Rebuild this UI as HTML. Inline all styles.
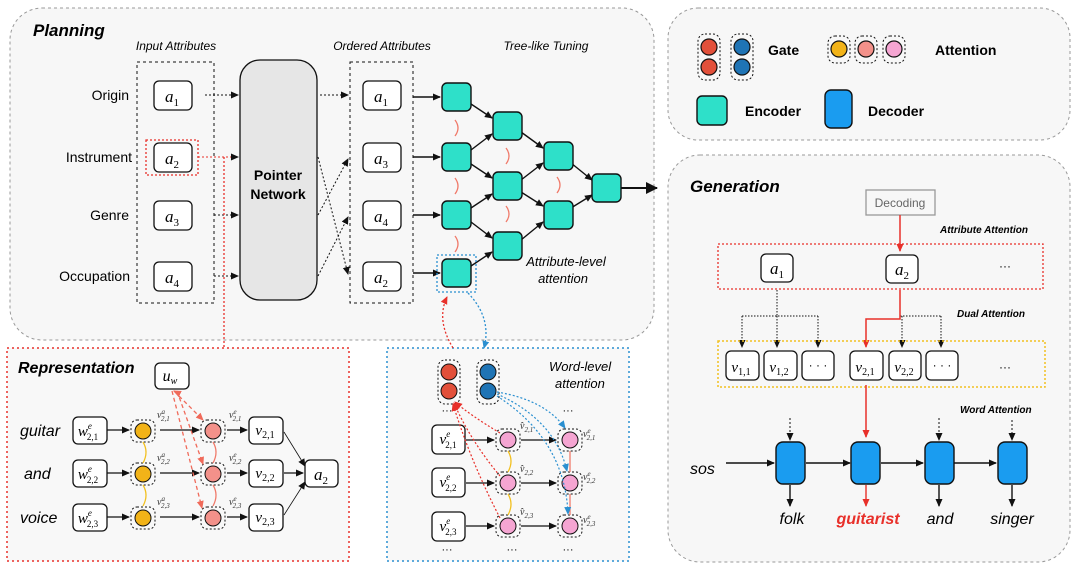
<!DOCTYPE html>
<html><head><meta charset="utf-8"><style>
html,body{margin:0;padding:0;background:#fff;}
svg{display:block;font-family:"Liberation Sans",sans-serif;}
.m{font-family:"Liberation Serif",serif;font-style:italic;}
.it{font-style:italic;}
</style></head><body>
<svg width="1080" height="569" viewBox="0 0 1080 569" xmlns="http://www.w3.org/2000/svg">
<defs>
<marker id="ak" markerWidth="8" markerHeight="8" refX="7" refY="4" orient="auto" markerUnits="userSpaceOnUse"><path d="M0,0.5 L8,4 L0,7.5z" fill="#111"/></marker>
<marker id="ar" markerWidth="8" markerHeight="8" refX="7" refY="4" orient="auto" markerUnits="userSpaceOnUse"><path d="M0,0.5 L8,4 L0,7.5z" fill="#e8302a"/></marker>
<marker id="ab" markerWidth="8" markerHeight="8" refX="7" refY="4" orient="auto" markerUnits="userSpaceOnUse"><path d="M0,0.5 L8,4 L0,7.5z" fill="#2a8fd0"/></marker>
<marker id="as" markerWidth="8" markerHeight="8" refX="7" refY="4" orient="auto" markerUnits="userSpaceOnUse"><path d="M0,0.5 L8,4 L0,7.5z" fill="#f06a5a"/></marker>
<marker id="aB" markerWidth="12" markerHeight="12" refX="11" refY="6" orient="auto" markerUnits="userSpaceOnUse"><path d="M0,0 L12,6 L0,12z" fill="#111"/></marker>
</defs>

<!-- Main panels -->
<rect x="10" y="8" width="644" height="332" rx="32" fill="#f7f7f7" stroke="#999" stroke-dasharray="3,3"/>
<rect x="668" y="8" width="402" height="132" rx="30" fill="#f7f7f7" stroke="#999" stroke-dasharray="3,3"/>
<rect x="668" y="155" width="402" height="407" rx="32" fill="#f7f7f7" stroke="#999" stroke-dasharray="3,3"/>
<rect x="7" y="348" width="342" height="213" fill="#f8f8f8" stroke="#e8302a" stroke-width="1.5" stroke-dasharray="2,3"/>
<rect x="387" y="348" width="242" height="213" fill="#f8f8f8" stroke="#2a8fd0" stroke-width="1.5" stroke-dasharray="2,3"/>

<!-- Planning -->
<text x="33" y="36" font-size="17" font-weight="bold" class="it">Planning</text>
<text x="176" y="50" font-size="12" class="it" text-anchor="middle">Input Attributes</text>
<text x="382" y="50" font-size="12" class="it" text-anchor="middle">Ordered Attributes</text>
<text x="546" y="50" font-size="12" class="it" text-anchor="middle">Tree-like Tuning</text>
<g font-size="14" text-anchor="end">
<text x="129" y="100">Origin</text><text x="132" y="162">Instrument</text>
<text x="129" y="220">Genre</text><text x="130" y="281">Occupation</text></g>
<rect x="137" y="62" width="77" height="241" fill="none" stroke="#111" stroke-dasharray="3,3"/>
<rect x="350" y="62" width="63" height="241" fill="none" stroke="#111" stroke-dasharray="3,3"/>
<rect x="146" y="140" width="52" height="35" fill="none" stroke="#e8302a" stroke-dasharray="2,2" stroke-width="1.3"/>
<g fill="#fff" stroke="#111" stroke-width="1.3">
<rect x="154" y="81" width="38" height="29" rx="5"/><rect x="154" y="143" width="38" height="29" rx="5"/>
<rect x="154" y="201" width="38" height="29" rx="5"/><rect x="154" y="262" width="38" height="29" rx="5"/>
<rect x="363" y="81" width="38" height="29" rx="5"/><rect x="363" y="143" width="38" height="29" rx="5"/>
<rect x="363" y="201" width="38" height="29" rx="5"/><rect x="363" y="262" width="38" height="29" rx="5"/>
</g>
<g class="m" font-size="17" text-anchor="middle">
<text x="172" y="102">a<tspan font-size="11" dy="4" font-style="normal">1</tspan></text>
<text x="172" y="164">a<tspan font-size="11" dy="4" font-style="normal">2</tspan></text>
<text x="172" y="222">a<tspan font-size="11" dy="4" font-style="normal">3</tspan></text>
<text x="172" y="283">a<tspan font-size="11" dy="4" font-style="normal">4</tspan></text>
<text x="381" y="102">a<tspan font-size="11" dy="4" font-style="normal">1</tspan></text>
<text x="381" y="164">a<tspan font-size="11" dy="4" font-style="normal">3</tspan></text>
<text x="381" y="222">a<tspan font-size="11" dy="4" font-style="normal">4</tspan></text>
<text x="381" y="283">a<tspan font-size="11" dy="4" font-style="normal">2</tspan></text>
</g>
<rect x="240" y="60" width="77" height="240" rx="20" fill="#e6e6e6" stroke="#111" stroke-width="1.3"/>
<text x="278" y="180" font-size="14" font-weight="bold" text-anchor="middle">Pointer</text>
<text x="278" y="199" font-size="14" font-weight="bold" text-anchor="middle">Network</text>
<g stroke="#111" stroke-dasharray="2,2" fill="none" marker-end="url(#ak)">
<line x1="205" y1="95" x2="238" y2="95"/><line x1="214" y1="215" x2="238" y2="215"/><line x1="214" y1="276" x2="238" y2="276"/>
<line x1="320" y1="95" x2="348" y2="95"/>
<line x1="318" y1="157" x2="348" y2="274"/>
<line x1="318" y1="215" x2="348" y2="159"/>
<line x1="318" y1="276" x2="348" y2="217"/>
</g>
<line x1="198" y1="157" x2="238" y2="157" stroke="#e8302a" stroke-dasharray="2,2" marker-end="url(#ak)"/>
<polyline points="224,157 224,348" fill="none" stroke="#e8302a" stroke-width="1.3" stroke-dasharray="2,2"/>

<!-- Tree -->
<g stroke="#111" stroke-width="1.4" marker-end="url(#ak)">
<line x1="413" y1="97" x2="440" y2="97"/><line x1="413" y1="157" x2="440" y2="157"/>
<line x1="413" y1="215" x2="440" y2="215"/><line x1="413" y1="273" x2="440" y2="273"/>
<line x1="471" y1="104" x2="492" y2="118"/><line x1="471" y1="150" x2="492" y2="134"/>
<line x1="471" y1="164" x2="492" y2="178"/><line x1="471" y1="208" x2="492" y2="194"/>
<line x1="471" y1="222" x2="492" y2="238"/><line x1="471" y1="266" x2="492" y2="252"/>
<line x1="521" y1="132" x2="543" y2="148"/><line x1="521" y1="192" x2="543" y2="206"/>
<line x1="521" y1="180" x2="543" y2="163"/><line x1="521" y1="240" x2="543" y2="222"/>
<line x1="571" y1="163" x2="592" y2="180"/><line x1="571" y1="208" x2="592" y2="195"/>
</g>
<line x1="620" y1="188" x2="657" y2="188" stroke="#111" stroke-width="2" marker-end="url(#aB)"/>
<g fill="#2ee0c9" stroke="#111" stroke-width="1.4">
<rect x="442" y="83" width="29" height="28" rx="5"/><rect x="442" y="143" width="29" height="28" rx="5"/>
<rect x="442" y="201" width="29" height="28" rx="5"/><rect x="442" y="259" width="29" height="28" rx="5"/>
<rect x="493" y="112" width="29" height="28" rx="5"/><rect x="493" y="172" width="29" height="28" rx="5"/>
<rect x="493" y="232" width="29" height="28" rx="5"/>
<rect x="544" y="142" width="29" height="28" rx="5"/><rect x="544" y="201" width="29" height="28" rx="5"/>
<rect x="592" y="174" width="29" height="28" rx="5"/>
</g>
<g fill="none" stroke="#f07a6a" stroke-width="1.3">
<path d="M455,120 q6,8 0,16"/><path d="M455,178 q6,8 0,16"/><path d="M455,236 q6,8 0,16"/>
<path d="M506,148 q6,8 0,16"/><path d="M506,206 q6,8 0,16"/><path d="M557,177 q6,8 0,16"/>
</g>
<rect x="437" y="255" width="39" height="37" fill="none" stroke="#2a8fd0" stroke-width="1.3" stroke-dasharray="2,2"/>
<text x="566" y="266" font-size="13" class="it" text-anchor="middle">Attribute-level</text>
<text x="563" y="283" font-size="13" class="it" text-anchor="middle">attention</text>
<path d="M453,348 Q436,320 447,297" fill="none" stroke="#e8302a" stroke-dasharray="2,2" stroke-width="1.3" marker-end="url(#ar)"/>
<path d="M468,293 Q492,318 484,348" fill="none" stroke="#2a8fd0" stroke-dasharray="2,2" stroke-width="1.3" marker-end="url(#ab)"/>

<!-- Legend -->
<g fill="none" stroke="#111" stroke-dasharray="2,2"><rect x="698" y="34" width="22" height="46" rx="7"/><rect x="731" y="34" width="22" height="46" rx="7"/>
<rect x="828" y="36" width="22" height="27" rx="7"/><rect x="855" y="36" width="22" height="27" rx="7"/><rect x="883" y="36" width="22" height="27" rx="7"/></g>
<g stroke="#111" stroke-width="1.2">
<circle cx="709" cy="47" r="8" fill="#e2503a"/><circle cx="709" cy="67" r="8" fill="#e2503a"/>
<circle cx="742" cy="47" r="8" fill="#1f74b5"/><circle cx="742" cy="67" r="8" fill="#1f74b5"/>
<circle cx="839" cy="49" r="8" fill="#f2b318"/><circle cx="866" cy="49" r="8" fill="#f3918a"/><circle cx="894" cy="49" r="8" fill="#f5a5d2"/>
</g>
<text x="768" y="55" font-size="14" font-weight="bold">Gate</text>
<text x="935" y="55" font-size="14" font-weight="bold">Attention</text>
<rect x="697" y="96" width="30" height="29" rx="5" fill="#2ee0c9" stroke="#111" stroke-width="1.4"/>
<text x="745" y="116" font-size="14" font-weight="bold">Encoder</text>
<rect x="825" y="90" width="27" height="38" rx="6" fill="#1a9cf0" stroke="#111" stroke-width="1.4"/>
<text x="868" y="116" font-size="14" font-weight="bold">Decoder</text>

<!-- Generation -->
<text x="690" y="192" font-size="17" font-weight="bold" class="it">Generation</text>
<rect x="866" y="190" width="69" height="25" fill="#f7f7f7" stroke="#999" stroke-width="1.3"/>
<text x="900" y="207" font-size="12" fill="#666" text-anchor="middle">Decoding</text>
<line x1="900" y1="215" x2="900" y2="251" stroke="#e8302a" stroke-width="1.5" marker-end="url(#ar)"/>
<text x="940" y="233" font-size="10" font-weight="bold" class="it">Attribute Attention</text>
<rect x="718" y="244" width="325" height="45" fill="none" stroke="#e8302a" stroke-width="1.3" stroke-dasharray="2,2"/>
<rect x="761" y="254" width="32" height="28" rx="5" fill="#fff" stroke="#111" stroke-width="1.3"/>
<rect x="886" y="255" width="32" height="28" rx="5" fill="#fff" stroke="#111" stroke-width="1.3"/>
<text x="777" y="274" font-size="17" class="m" text-anchor="middle">a<tspan font-size="11" dy="4" font-style="normal">1</tspan></text>
<text x="902" y="275" font-size="17" class="m" text-anchor="middle">a<tspan font-size="11" dy="4" font-style="normal">2</tspan></text>
<text x="1005" y="270" font-size="12" text-anchor="middle">···</text>
<g fill="none" stroke="#111" stroke-dasharray="1.5,1.5">
<polyline points="777,290 777,316"/><polyline points="742,316 818,316"/><polyline points="900,316 941,316"/></g>
<g stroke="#111" stroke-dasharray="1.5,1.5" marker-end="url(#ak)">
<line x1="742" y1="316" x2="742" y2="347"/><line x1="777" y1="316" x2="777" y2="347"/><line x1="818" y1="316" x2="818" y2="347"/>
<line x1="902" y1="316" x2="902" y2="347"/><line x1="941" y1="316" x2="941" y2="347"/></g>
<polyline points="900,290 900,319 866,319 866,347" fill="none" stroke="#e8302a" stroke-width="1.5" marker-end="url(#ar)"/>
<text x="957" y="317" font-size="10" font-weight="bold" class="it">Dual Attention</text>
<rect x="718" y="341" width="327" height="46" fill="none" stroke="#f2c020" stroke-width="1.5" stroke-dasharray="2,2"/>
<g fill="#fff" stroke="#111" stroke-width="1.3">
<rect x="726" y="351" width="33" height="29" rx="5"/><rect x="764" y="351" width="33" height="29" rx="5"/><rect x="802" y="351" width="32" height="29" rx="5"/>
<rect x="850" y="351" width="33" height="29" rx="5"/><rect x="889" y="351" width="32" height="29" rx="5"/><rect x="926" y="351" width="32" height="29" rx="5"/></g>
<g class="m" font-size="15" text-anchor="middle">
<text x="741" y="372">v<tspan font-size="10" dy="3" font-style="normal">1,1</tspan></text>
<text x="779" y="372">v<tspan font-size="10" dy="3" font-style="normal">1,2</tspan></text>
<text x="865" y="372">v<tspan font-size="10" dy="3" font-style="normal">2,1</tspan></text>
<text x="904" y="372">v<tspan font-size="10" dy="3" font-style="normal">2,2</tspan></text></g>
<text x="818" y="369" font-size="12" text-anchor="middle">· · ·</text>
<text x="942" y="369" font-size="12" text-anchor="middle">· · ·</text>
<text x="1005" y="371" font-size="12" text-anchor="middle">···</text>
<line x1="866" y1="385" x2="866" y2="437" stroke="#e8302a" stroke-width="1.5" marker-end="url(#ar)"/>
<text x="960" y="413" font-size="10" font-weight="bold" class="it">Word Attention</text>
<g stroke="#111" stroke-dasharray="2,2" marker-end="url(#ak)">
<line x1="790" y1="418" x2="790" y2="440"/><line x1="939" y1="418" x2="939" y2="440"/><line x1="1012" y1="420" x2="1012" y2="440"/></g>
<text x="690" y="474" font-size="16" class="it">sos</text>
<g stroke="#111" stroke-width="1.4" marker-end="url(#ak)">
<line x1="726" y1="463" x2="774" y2="463"/><line x1="806" y1="463" x2="850" y2="463"/>
<line x1="881" y1="463" x2="923" y2="463"/><line x1="954" y1="463" x2="996" y2="463"/>
<line x1="790" y1="485" x2="790" y2="506"/><line x1="939" y1="485" x2="939" y2="506"/><line x1="1012" y1="485" x2="1012" y2="506"/></g>
<line x1="866" y1="485" x2="866" y2="506" stroke="#e8302a" stroke-width="1.4" marker-end="url(#ar)"/>
<g fill="#1a9cf0" stroke="#111" stroke-width="1.4">
<rect x="776" y="442" width="29" height="42" rx="7"/><rect x="851" y="442" width="29" height="42" rx="7"/>
<rect x="925" y="442" width="29" height="42" rx="7"/><rect x="998" y="442" width="29" height="42" rx="7"/></g>
<g font-size="16" class="it" text-anchor="middle">
<text x="792" y="524">folk</text><text x="868" y="524" fill="#e8302a" font-weight="bold">guitarist</text>
<text x="940" y="524">and</text><text x="1012" y="524">singer</text></g>

<!-- Representation -->
<text x="18" y="373" font-size="16" font-weight="bold" class="it">Representation</text>
<rect x="155" y="363" width="34" height="26" rx="5" fill="#fff" stroke="#111" stroke-width="1.3"/>
<text x="170" y="381" font-size="16" class="m" text-anchor="middle">u<tspan font-size="10" dy="3">w</tspan></text>
<g font-size="16" class="it"><text x="20" y="436">guitar</text><text x="24" y="479">and</text><text x="20" y="523">voice</text></g>
<g fill="#fff" stroke="#111" stroke-width="1.3">
<rect x="73" y="417" width="34" height="27" rx="5"/><rect x="73" y="460" width="34" height="27" rx="5"/><rect x="73" y="504" width="34" height="27" rx="5"/>
<rect x="249" y="417" width="34" height="27" rx="5"/><rect x="249" y="460" width="34" height="27" rx="5"/><rect x="249" y="504" width="34" height="27" rx="5"/>
<rect x="305" y="460" width="33" height="27" rx="5"/></g>
<g class="m" font-size="15" text-anchor="middle">
<text x="88" y="436">w<tspan font-size="9" dy="-7" font-style="italic">e</tspan><tspan font-size="9" dx="-5" dy="11" font-style="normal">2,1</tspan></text>
<text x="88" y="479">w<tspan font-size="9" dy="-7" font-style="italic">e</tspan><tspan font-size="9" dx="-5" dy="11" font-style="normal">2,2</tspan></text>
<text x="88" y="523">w<tspan font-size="9" dy="-7" font-style="italic">e</tspan><tspan font-size="9" dx="-5" dy="11" font-style="normal">2,3</tspan></text>
<text x="265" y="435">v<tspan font-size="10" dy="3" font-style="normal">2,1</tspan></text>
<text x="265" y="478">v<tspan font-size="10" dy="3" font-style="normal">2,2</tspan></text>
<text x="265" y="522">v<tspan font-size="10" dy="3" font-style="normal">2,3</tspan></text>
<text x="321" y="480" font-size="17">a<tspan font-size="11" dy="4" font-style="normal">2</tspan></text></g>
<g stroke="#111" stroke-width="1.2" marker-end="url(#ak)">
<line x1="107" y1="430" x2="129" y2="430"/><line x1="107" y1="473" x2="129" y2="473"/><line x1="107" y1="517" x2="129" y2="517"/>
<line x1="160" y1="430" x2="199" y2="430"/><line x1="160" y1="473" x2="199" y2="473"/><line x1="160" y1="517" x2="199" y2="517"/>
<line x1="227" y1="430" x2="247" y2="430"/><line x1="227" y1="473" x2="247" y2="473"/><line x1="227" y1="517" x2="247" y2="517"/>
<line x1="284" y1="432" x2="305" y2="466" stroke-width="0.8"/><line x1="284" y1="473" x2="303" y2="473"/><line x1="284" y1="515" x2="305" y2="482" stroke-width="0.8"/></g>
<g fill="none" stroke="#111" stroke-dasharray="2,2">
<rect x="131" y="420" width="24" height="22" rx="6"/><rect x="131" y="463" width="24" height="22" rx="6"/><rect x="131" y="507" width="24" height="22" rx="6"/>
<rect x="201" y="420" width="24" height="22" rx="6"/><rect x="201" y="463" width="24" height="22" rx="6"/><rect x="201" y="507" width="24" height="22" rx="6"/></g>
<g stroke="#111"><circle cx="143" cy="431" r="8" fill="#f2b318"/><circle cx="143" cy="474" r="8" fill="#f2b318"/><circle cx="143" cy="518" r="8" fill="#f2b318"/>
<circle cx="213" cy="431" r="8" fill="#f3918a"/><circle cx="213" cy="474" r="8" fill="#f3918a"/><circle cx="213" cy="518" r="8" fill="#f3918a"/></g>
<g fill="none" stroke-width="1.3"><path d="M143,442 q6,10 0,21" stroke="#f2c020"/><path d="M143,485 q6,10 0,21" stroke="#f2c020"/>
<path d="M213,442 q6,10 0,21" stroke="#f07a6a"/><path d="M213,485 q6,10 0,21" stroke="#f07a6a"/></g>
<g stroke="#f06a5a" stroke-width="1.3" stroke-dasharray="4,3" marker-end="url(#as)" fill="none">
<line x1="174" y1="391" x2="203" y2="420"/><line x1="177" y1="391" x2="203" y2="464"/><line x1="172" y1="391" x2="202" y2="508"/>
<line x1="180" y1="394" x2="174" y2="391" stroke-dasharray="none"/></g>
<g class="m" font-size="10" fill="#333">
<text x="157" y="418">v<tspan font-size="7" dy="-4">a</tspan><tspan font-size="7" dx="-4" dy="7">2,1</tspan></text>
<text x="157" y="461">v<tspan font-size="7" dy="-4">a</tspan><tspan font-size="7" dx="-4" dy="7">2,2</tspan></text>
<text x="157" y="505">v<tspan font-size="7" dy="-4">a</tspan><tspan font-size="7" dx="-4" dy="7">2,3</tspan></text>
<text x="229" y="418">v<tspan font-size="7" dy="-4">e</tspan><tspan font-size="7" dx="-4" dy="7">2,1</tspan></text>
<text x="229" y="461">v<tspan font-size="7" dy="-4">e</tspan><tspan font-size="7" dx="-4" dy="7">2,2</tspan></text>
<text x="229" y="505">v<tspan font-size="7" dy="-4">e</tspan><tspan font-size="7" dx="-4" dy="7">2,3</tspan></text></g>

<!-- Word-level -->
<text x="549" y="371" font-size="13" class="it">Word-level</text>
<text x="555" y="388" font-size="13" class="it">attention</text>
<g fill="none" stroke="#111" stroke-dasharray="2,2"><rect x="438" y="360" width="22" height="44" rx="7"/><rect x="477" y="360" width="22" height="44" rx="7"/>
<rect x="496" y="429" width="24" height="22" rx="6"/><rect x="496" y="472" width="24" height="22" rx="6"/><rect x="496" y="515" width="24" height="22" rx="6"/>
<rect x="558" y="429" width="24" height="22" rx="6"/><rect x="558" y="472" width="24" height="22" rx="6"/><rect x="558" y="515" width="24" height="22" rx="6"/></g>
<g stroke="#111"><circle cx="449" cy="372" r="8" fill="#e2503a"/><circle cx="449" cy="391" r="8" fill="#e2503a"/>
<circle cx="488" cy="372" r="8" fill="#1f74b5"/><circle cx="488" cy="391" r="8" fill="#1f74b5"/>
<circle cx="508" cy="440" r="8" fill="#f5a5d2"/><circle cx="508" cy="483" r="8" fill="#f5a5d2"/><circle cx="508" cy="526" r="8" fill="#f5a5d2"/>
<circle cx="570" cy="440" r="8" fill="#f5a5d2"/><circle cx="570" cy="483" r="8" fill="#f5a5d2"/><circle cx="570" cy="526" r="8" fill="#f5a5d2"/></g>
<g fill="#fff" stroke="#111" stroke-width="1.3"><rect x="432" y="425" width="33" height="29" rx="5"/><rect x="432" y="468" width="33" height="29" rx="5"/><rect x="432" y="512" width="33" height="29" rx="5"/></g>
<g class="m" font-size="15" text-anchor="middle">
<text x="448" y="444">v<tspan font-size="9" dy="-7">e</tspan><tspan font-size="9" dx="-5" dy="11" font-style="normal">2,1</tspan></text>
<text x="448" y="487">v<tspan font-size="9" dy="-7">e</tspan><tspan font-size="9" dx="-5" dy="11" font-style="normal">2,2</tspan></text>
<text x="448" y="531">v<tspan font-size="9" dy="-7">e</tspan><tspan font-size="9" dx="-5" dy="11" font-style="normal">2,3</tspan></text></g>
<g stroke="#111" stroke-width="1.2" marker-end="url(#ak)">
<line x1="466" y1="440" x2="494" y2="440"/><line x1="466" y1="483" x2="494" y2="483"/><line x1="466" y1="526" x2="494" y2="526"/>
<line x1="521" y1="440" x2="556" y2="440"/><line x1="521" y1="483" x2="556" y2="483"/><line x1="521" y1="526" x2="556" y2="526"/></g>
<g fill="none" stroke-width="1.3"><path d="M508,451 q6,10 0,21" stroke="#f2c020"/><path d="M508,494 q6,10 0,21" stroke="#f2c020"/>
<line x1="570" y1="451" x2="570" y2="472" stroke="#f07a6a"/><line x1="570" y1="494" x2="570" y2="515" stroke="#f07a6a"/></g>
<g stroke="#e8302a" stroke-width="1.2" stroke-dasharray="2,2" fill="none" marker-end="url(#ar)">
<path d="M500,433 Q470,415 455,402"/><path d="M500,476 Q470,440 454,403"/><path d="M500,518 Q470,460 453,404"/></g>
<g stroke="#2a8fd0" stroke-width="1.2" stroke-dasharray="2,2" fill="none" marker-end="url(#ab)">
<path d="M497,392 Q545,400 565,428"/><path d="M497,394 Q555,420 567,471"/><path d="M497,396 Q565,440 568,514"/></g>
<g class="m" font-size="10" fill="#333">
<text x="520" y="429">v̂<tspan font-size="7" dy="3">2,1</tspan></text><text x="520" y="472">v̂<tspan font-size="7" dy="3">2,2</tspan></text><text x="520" y="515">v̂<tspan font-size="7" dy="3">2,3</tspan></text>
<text x="583" y="437">v<tspan font-size="7" dy="-4">e</tspan><tspan font-size="7" dx="-4" dy="7">2,1</tspan></text>
<text x="583" y="480">v<tspan font-size="7" dy="-4">e</tspan><tspan font-size="7" dx="-4" dy="7">2,2</tspan></text>
<text x="583" y="523">v<tspan font-size="7" dy="-4">e</tspan><tspan font-size="7" dx="-4" dy="7">2,3</tspan></text></g>
<g font-size="11" text-anchor="middle"><text x="447" y="414">···</text><text x="568" y="414">···</text>
<text x="447" y="553">···</text><text x="512" y="553">···</text><text x="568" y="553">···</text></g>
</svg>
</body></html>
